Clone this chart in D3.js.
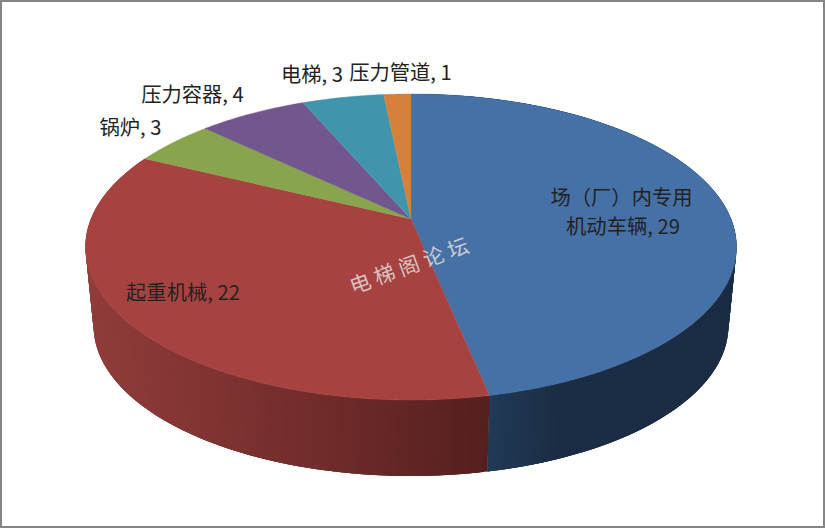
<!DOCTYPE html>
<html><head><meta charset="utf-8">
<script src="https://cdn.jsdelivr.net/npm/d3@7/dist/d3.min.js"></script>
<style>html,body{margin:0;padding:0;background:#fff}svg{display:block}
text{font-family:"Noto Sans CJK SC","Noto Sans",sans-serif;fill:#222}</style></head>
<body><svg id="c" width="825" height="528"></svg>
<script>
const categories=["场（厂）内专用机动车辆","起重机械","锅炉","压力容器","电梯","压力管道"];
const values=[29,22,3,4,3,1];
const topColors=["#4671a6","#a64341","#88a44d","#72578e","#4095ad","#d5803b"];
const sideColors=[["#213a57","#1b2d44","#1b2d44"],["#8f3c3a","#6f2b2a","#54201f"]];
const labelLines=[["场（厂）内专用","机动车辆, 29"],["起重机械, 22"],["锅炉, 3"],["压力容器, 4"],["电梯, 3"],["压力管道, 1"]];
const labelAnchors=[[621.5,198,623,227],[183,293],[130.5,128],[192.5,95],[312,75],[400.5,73]];

const W=825,H=528;
const svg=d3.select("#c");
svg.append("rect").attr("x",1).attr("y",1).attr("width",W-2).attr("height",H-2)
  .attr("fill","#fff").attr("stroke","#868686").attr("stroke-width",2);

// perspective projection of the unit disc
const cx=411,cy=219,a=147.9,b=320.0,k=-0.183;
const topFace=t=>{const u=Math.sin(t),v=-Math.cos(t),d=1+k*v;return [cx+b*u/d,cy+a*v/d];};
const lowFace=t=>{const p=topFace(t);return [cx+0.975*(p[0]-cx),326+0.98*(p[1]-247)];};

const arcs=d3.pie().sort(null).value(d=>d)(values);
const line=d3.line();
const steps=(s,e,n)=>d3.range(n+1).map(i=>s+(e-s)*i/n);

// side wall: strips painted over each other so no seams show
arcs.slice(0,2).forEach((ar,i)=>{
  const dom=i===0?[489,560,737]:[94,330,489];
  const shade=d3.scaleLinear().domain(dom).range(sideColors[i]);
  const n=Math.round((ar.endAngle-ar.startAngle)*90);
  const ts=steps(ar.startAngle,ar.endAngle,n);
  const paint=j=>{
    const t=ts[j],t2=ts[Math.min(j+3,n)],p=[topFace(t),topFace(t2),lowFace(t2),lowFace(t)];
    svg.append("path").attr("d",line(p)+"Z").attr("fill",shade(topFace((t+ts[j+1])/2)[0]));
  };
  d3.range(n).forEach(paint);
});

// top face
arcs.forEach((ar,i)=>{
  const n=Math.max(4,Math.round((ar.endAngle-ar.startAngle)*120));
  const pts=[[cx,cy],...steps(ar.startAngle,ar.endAngle,n).map(topFace)];
  svg.append("path").attr("d",line(pts)+"Z").attr("fill",topColors[i])
    .attr("stroke",topColors[i]).attr("stroke-width",0.4);
});

// labels
labelLines.forEach((ls,i)=>{
  const an=labelAnchors[i];
  ls.forEach((s,j)=>svg.append("text").attr("x",an[j*2]).attr("y",an[j*2+1]+7)
    .attr("text-anchor","middle").attr("font-size",20.3).text(s));
});

// watermark
svg.append("text").attr("transform","translate(414,272) rotate(-20)")
  .attr("text-anchor","middle").attr("font-size",21).attr("letter-spacing",5)
  .style("fill","#e2dada").attr("fill-opacity",0.85).text("电梯阁论坛");
</script></body></html>
